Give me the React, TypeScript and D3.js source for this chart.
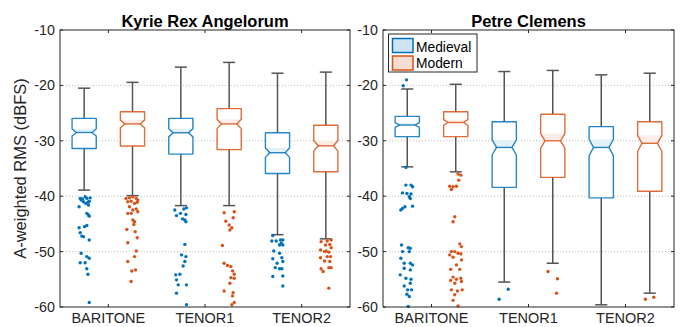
import React from 'react';
import * as d3 from 'd3';

const categories = ['BARITONE', 'TENOR1', 'TENOR2'];
const groups = ['Medieval', 'Modern'];
const yTicks = [-60, -50, -40, -30, -20, -10];

// box stats per category: [lower whisker, Q1, median, Q3, upper whisker]
const kyrieMedieval = [
  [-38.9, -31.4, -28.5, -25.95, -20.5],
  [-41.7, -32.4, -28.55, -25.95, -16.7],
  [-46.95, -35.9, -32.15, -28.55, -17.8],
];
const kyrieModern = [
  [-39.9, -30.95, -26.95, -24.75, -19.45],
  [-41.7, -31.6, -26.95, -24.2, -15.85],
  [-47.7, -35.6, -30.9, -27.2, -17.6],
];
const petreMedieval = [
  [-34.7, -29.25, -27.15, -25.6, -20.65],
  [-55.5, -38.4, -31.2, -26.55, -17.5],
  [-59.6, -40.3, -31.2, -27.45, -18.1],
];
const petreModern = [
  [-35.6, -29.25, -26.7, -24.75, -19.8],
  [-52.1, -36.6, -30.0, -25.2, -17.3],
  [-57.5, -39.1, -30.45, -26.55, -17.8],
];

// outliers per category: [jitter (fraction of half box width), dBFS]
const kyrieMedievalOut = [
  [[-0.33, -40.4], [-0.14, -40.5], [0.08, -40.1], [0.22, -40.4], [0.5, -40.3], [0.42, -40.9], [-0.06, -41.0], [-0.25, -40.7], [-0.42, -41.9], [0.14, -41.3], [0.31, -41.1], [0.36, -41.6], [0.22, -43.1], [0.36, -43.4], [0.42, -43.6], [-0.42, -45.7], [0.03, -45.5], [0.22, -45.3], [-0.33, -46.6], [-0.19, -47.2], [-0.06, -47.3], [0.42, -47.9], [-0.25, -50.3], [0.22, -50.9], [0.42, -51.2], [-0.33, -52.0], [0.08, -52.0], [0.22, -53.1], [0.31, -54.1], [0.42, -59.2]],
  [[-0.5, -42.5], [-0.36, -43.5], [-0.03, -43.1], [0.25, -42.3], [0.47, -42.1], [0.42, -43.3], [0.14, -44.1], [0.33, -44.3], [0.42, -44.6], [0.33, -48.7], [0.06, -50.6], [0.42, -50.9], [0.33, -51.8], [0.19, -52.6], [-0.08, -54.1], [-0.42, -54.2], [-0.36, -55.1], [-0.22, -56.0], [0.47, -56.0], [-0.36, -57.5], [0.47, -59.6]],
  [[-0.39, -47.1], [-0.47, -48.1], [-0.11, -48.1], [0.25, -47.9], [0.44, -47.9], [0.31, -48.5], [0.17, -48.8], [0.44, -48.8], [-0.31, -49.9], [0.17, -50.3], [-0.39, -51.3], [0.36, -51.1], [0.44, -51.8], [-0.03, -52.1], [-0.19, -52.9], [0.17, -53.1], [0.36, -53.1], [-0.39, -54.5], [0.44, -54.4], [0.44, -56.2]],
];
const kyrieModernOut = [
  [[-0.53, -40.4], [-0.25, -40.3], [0.03, -40.1], [0.31, -40.4], [0.44, -40.7], [-0.39, -41.0], [-0.11, -40.9], [0.17, -41.3], [0.39, -41.1], [-0.25, -41.9], [0.03, -42.5], [0.31, -42.3], [0.44, -42.8], [-0.39, -43.1], [-0.11, -43.1], [0.03, -44.3], [0.17, -44.6], [0.11, -45.1], [-0.47, -46.0], [0.22, -46.4], [0.39, -47.5], [-0.39, -48.4], [0.31, -49.9], [0.17, -50.9], [-0.39, -51.8], [0.25, -53.3], [-0.06, -53.5], [-0.11, -55.4]],
  [[-0.42, -43.0], [0.42, -42.8], [0.33, -43.9], [-0.28, -44.5], [0, -45.2], [0.22, -45.7], [0.06, -46.1], [-0.56, -48.9], [-0.42, -52.1], [-0.14, -52.5], [0.14, -52.7], [0.28, -53.5], [0.42, -54.1], [0.14, -54.7], [0.42, -54.8], [0.06, -55.7], [-0.42, -57.1], [0.33, -57.4], [0.28, -58.0], [0.42, -59.2], [0.22, -59.6]],
  [[-0.39, -48.2], [0.11, -48.1], [0.44, -47.9], [0.33, -48.7], [-0.03, -48.8], [-0.44, -49.7], [-0.11, -50.0], [0.03, -49.9], [0.25, -50.1], [0.44, -49.3], [0.39, -50.9], [0.11, -50.9], [-0.44, -51.1], [-0.11, -51.7], [0.33, -51.8], [0.25, -52.9], [0.44, -52.9], [-0.39, -53.1], [-0.22, -53.6], [0.25, -56.6]],
];
const petreMedievalOut = [
  [[-0.06, -19.0], [-0.33, -20.05], [-0.11, -34.8], [-0.11, -38.0], [0.31, -38.0], [0.44, -38.3], [-0.39, -39.4], [-0.03, -39.5], [0.31, -39.6], [0.17, -40.1], [0.25, -40.4], [-0.39, -42.2], [-0.19, -41.9], [0.44, -41.8], [-0.53, -42.5], [-0.47, -48.8], [0.08, -49.3], [0.25, -49.4], [-0.39, -50.0], [0.17, -50.0], [-0.53, -51.2], [-0.25, -52.1], [0.25, -52.1], [0.44, -52.4], [-0.25, -53.0], [0.25, -53.3], [-0.58, -54.2], [-0.11, -54.8], [0.31, -55.0], [0.25, -55.7], [-0.25, -56.2], [0.03, -56.9], [0.36, -56.9], [-0.03, -57.7], [0.17, -58.1], [0.08, -59.9]],
  [[0.33, -56.8], [-0.42, -58.6]],
  [],
];
const petreModernOut = [
  [[0.19, -36.0], [0.42, -36.2], [0.25, -37.1], [-0.5, -38.2], [-0.22, -38.3], [0.06, -38.2], [-0.36, -38.8], [-0.08, -43.7], [-0.22, -44.6], [0.33, -48.6], [0.47, -49.1], [-0.36, -50.0], [-0.08, -50.0], [0.19, -50.3], [0.42, -50.4], [-0.5, -50.6], [-0.22, -51.0], [0.47, -51.5], [0.06, -52.4], [-0.42, -53.2], [0.33, -53.2], [-0.22, -54.6], [0.06, -55.0], [-0.42, -55.2], [0.42, -54.8], [-0.08, -55.7], [0.47, -55.4], [-0.36, -56.9], [0.14, -57.1], [0.53, -56.9], [-0.08, -57.8], [-0.22, -58.8], [0.19, -59.8]],
  [[-0.39, -53.6], [0.39, -54.9], [0.31, -57.5]],
  [[-0.36, -58.6], [0.33, -58.25]],
];

const COLORS = ['#0072BD', '#D95319'];
const AXIS = '#262626';
const FONT = '"Liberation Sans", Arial, sans-serif';

const W = 681;
const H = 327;
const top = 30;
const bottom = 307;

const y = d3.scaleLinear().domain([-60, -10]).range([bottom, top]);

type Panel = {
  title: string;
  x0: number;
  x1: number;
  stats: number[][][];
  outs: number[][][][];
  yLabel?: boolean;
  legend?: boolean;
};

const panels: Panel[] = [
  { title: 'Kyrie Rex Angelorum', x0: 60, x1: 350, stats: [kyrieMedieval, kyrieModern], outs: [kyrieMedievalOut, kyrieModernOut], yLabel: true },
  { title: 'Petre Clemens', x0: 383, x1: 674, stats: [petreMedieval, petreModern], outs: [petreMedievalOut, petreModernOut], legend: true },
];

const BoxPanel: React.FC<{ p: Panel }> = ({ p }) => {
  const x = d3.scaleBand<string>().domain(categories).range([p.x0, p.x1]);
  const g = d3.scaleBand<string>().domain(groups).range([0, x.bandwidth()]);
  const bw = g.bandwidth() / 2;
  const half = bw / 2;
  const inset = bw * 0.18;
  const cap = bw / 4;

  return (
    <g>
      {/* grid */}
      {yTicks.slice(1, -1).map(t => (
        <line key={'g' + t} x1={p.x0} x2={p.x1} y1={y(t)} y2={y(t)}
          stroke="#bdbdbd" strokeWidth={1} strokeDasharray="1,2" />
      ))}

      {groups.map((grp, gi) =>
        categories.map((c, ci) => {
          const cx = (x(c) as number) + (g(grp) as number) + g.bandwidth() / 2;
          const [lo, q1, med, q3, hi] = p.stats[gi][ci];
          const n = 0.115 * (q3 - q1);
          const nt = y(med + n), nb = y(med - n), ym = y(med);
          const L = cx - half, R = cx + half;
          const path = d3.path();
          path.moveTo(L, y(q3));
          path.lineTo(R, y(q3));
          path.lineTo(R, nt);
          path.lineTo(R - inset, ym);
          path.lineTo(R, nb);
          path.lineTo(R, y(q1));
          path.lineTo(L, y(q1));
          path.lineTo(L, nb);
          path.lineTo(L + inset, ym);
          path.lineTo(L, nt);
          path.closePath();
          const band = d3.path();
          band.moveTo(L, nt);
          band.lineTo(R, nt);
          band.lineTo(R - inset, ym);
          band.lineTo(L + inset, ym);
          band.closePath();
          return (
            <g key={grp + c}>
              <line x1={cx} x2={cx} y1={y(q3)} y2={y(hi)} stroke="#555" strokeWidth={1.5} />
              <line x1={cx} x2={cx} y1={y(q1)} y2={y(lo)} stroke="#555" strokeWidth={1.5} />
              <line x1={cx - cap} x2={cx + cap} y1={y(hi)} y2={y(hi)} stroke="#555" strokeWidth={1.5} />
              <line x1={cx - cap} x2={cx + cap} y1={y(lo)} y2={y(lo)} stroke="#555" strokeWidth={1.5} />
              <path d={path.toString()} fill="#fff" stroke={COLORS[gi]} strokeOpacity={0.85} strokeWidth={1.4} strokeLinejoin="round" />
              <path d={band.toString()} fill={COLORS[gi]} fillOpacity={0.1} />
              <line x1={L + inset} x2={R - inset} y1={ym} y2={ym} stroke={COLORS[gi]} strokeOpacity={0.85} strokeWidth={1.4} />
              {p.outs[gi][ci].map(([j, v], k) => (
                <circle key={k} cx={cx + j * half} cy={y(v)} r={1.7} fill={COLORS[gi]} />
              ))}
            </g>
          );
        })
      )}

      {/* axes frame */}
      <rect x={p.x0} y={top} width={p.x1 - p.x0} height={bottom - top} fill="none" stroke={AXIS} strokeWidth={1} />
      {categories.map(c => {
        const cx = (x(c) as number) + x.bandwidth() / 2;
        return (
          <g key={'t' + c}>
            <line x1={cx} x2={cx} y1={bottom} y2={bottom - 3} stroke={AXIS} />
            <line x1={cx} x2={cx} y1={top} y2={top + 3} stroke={AXIS} />
            <text x={cx} y={323} textAnchor="middle" fontSize={14.5} fill={AXIS} fontFamily={FONT}>{c}</text>
          </g>
        );
      })}
      {yTicks.map(t => (
        <g key={'y' + t}>
          <line x1={p.x0} x2={p.x0 + 3} y1={y(t)} y2={y(t)} stroke={AXIS} />
          <line x1={p.x1} x2={p.x1 - 3} y1={y(t)} y2={y(t)} stroke={AXIS} />
          <text x={p.x0 - 5} y={y(t) + 5} textAnchor="end" fontSize={14.3} fill={AXIS} fontFamily={FONT}>{t}</text>
        </g>
      ))}
      <text x={(p.x0 + p.x1) / 2} y={27} textAnchor="middle" fontSize={16.5} fontWeight="bold" fill="#000" fontFamily={FONT}>{p.title}</text>
      {p.yLabel && (
        <text transform={`translate(26,${(top + bottom) / 2}) rotate(-90)`} textAnchor="middle" fontSize={16.5} fill={AXIS} fontFamily={FONT}>
          A-weighted RMS (dBFS)
        </text>
      )}
      {p.legend && (
        <g>
          <rect x={388.5} y={34} width={88.5} height={38} fill="#fff" stroke={AXIS} strokeWidth={1} />
          {groups.map((grp, gi) => (
            <g key={'l' + grp}>
              <rect x={392.5} y={38.5 + gi * 17.5} width={20.5} height={14} fill={COLORS[gi]} fillOpacity={0.2} stroke={COLORS[gi]} strokeWidth={1.5} />
              <text x={416} y={51.5 + gi * 16} fontSize={13.8} fill="#000" fontFamily={FONT}>{grp}</text>
            </g>
          ))}
        </g>
      )}
    </g>
  );
};

export default function App() {
  return (
    <svg width={W} height={H} style={{ position: 'absolute', left: 0, top: 0, background: '#fff' }}>
      <rect width={W} height={H} fill="#fff" />
      {panels.map(p => <BoxPanel key={p.title} p={p} />)}
    </svg>
  );
}
